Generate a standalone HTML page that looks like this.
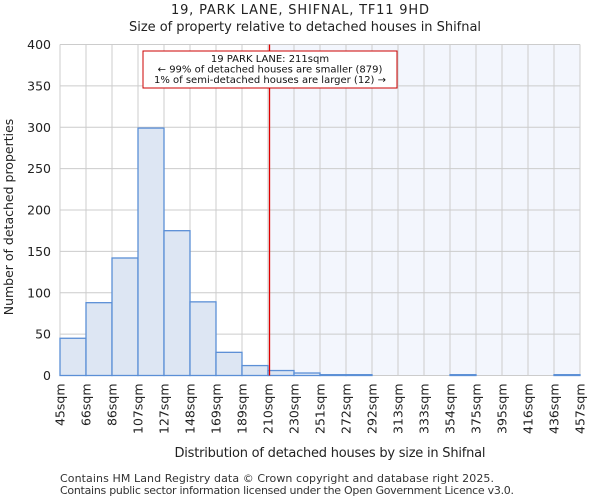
<!DOCTYPE html>
<html><head><meta charset="utf-8"><style>
body{margin:0;background:#fff;font-family:"DejaVu Sans","Liberation Sans",sans-serif;}
</style></head><body>
<svg width="600" height="500" xmlns="http://www.w3.org/2000/svg" font-family="DejaVu Sans, Liberation Sans, sans-serif">
<text x="300" y="14" text-anchor="middle" font-size="13" fill="#222" textLength="258">19, PARK LANE, SHIFNAL, TF11 9HD</text>
<text x="305" y="31" text-anchor="middle" font-size="13" fill="#222" textLength="352">Size of property relative to detached houses in Shifnal</text>
<g id="plot"></g>
<text x="330" y="457" text-anchor="middle" font-size="13" fill="#222" textLength="311">Distribution of detached houses by size in Shifnal</text>
<text transform="translate(13,217) rotate(-90)" text-anchor="middle" font-size="12.5" fill="#222">Number of detached properties</text>
<text x="60" y="482" font-size="11" fill="#333" textLength="434">Contains HM Land Registry data © Crown copyright and database right 2025.</text>
<text x="60" y="494" font-size="11" fill="#333" textLength="454">Contains public sector information licensed under the Open Government Licence v3.0.</text>
</svg>
<script>
const categories=["45sqm","66sqm","86sqm","107sqm","127sqm","148sqm","169sqm","189sqm","210sqm","230sqm","251sqm","272sqm","292sqm","313sqm","333sqm","354sqm","375sqm","395sqm","416sqm","436sqm","457sqm"];
const counts=[45,88,142,299,175,89,28,12,6,3,1,1,0,0,0,1,0,0,0,1];
const yTicks=[0,50,100,150,200,250,300,350,400];
const markerValue=211;
const annotationLines=["19 PARK LANE: 211sqm","← 99% of detached houses are smaller (879)","1% of semi-detached houses are larger (12) →"];
const NS="http://www.w3.org/2000/svg";
const L=60,R=580,T=44.5,B=375.5;
const n=counts.length,bw=(R-L)/n;
const xB=i=>L+i*bw;
const y=v=>B-(v/400)*(B-T);
const lo=45,step=(457-45)/20;
const xV=v=>L+(v-lo)/step*bw;
const g=document.getElementById('plot');
function mk(t,a){const e=document.createElementNS(NS,t);for(const k in a)e.setAttribute(k,a[k]);g.appendChild(e);return e;}
const mx=xV(markerValue);
let e=mk('rect',{x:mx,y:T,width:R-mx,height:B-T,fill:'#f3f6fd'});


yTicks.forEach(t=>{
 let l=mk('line',{x1:L,x2:R,y1:y(t),y2:y(t),stroke:'#ccc','stroke-width':1});
 
 
 let tx=mk('text',{x:L-9,y:y(t)+4.5,'text-anchor':'end','font-size':12.5,fill:'#222'});
 tx.textContent=t;
 
 
});
categories.forEach((c,i)=>{
 let l=mk('line',{x1:xB(i),x2:xB(i),y1:T,y2:B,stroke:'#ccc','stroke-width':1});
 
 
 let tx=mk('text',{transform:`translate(${xB(i)+4.5},${B+8}) rotate(-90)`,'text-anchor':'end','font-size':12.5,fill:'#222'});
 tx.textContent=c;
 
 
});
counts.forEach((v,i)=>{
 let r=mk('rect',{x:xB(i),y:y(v),width:bw,height:B-y(v),fill:i*step+lo<markerValue?'#dde6f3':'#e6edf8',stroke:'#5b8fd6','stroke-width':1.3});
 
 
});
let rl=mk('line',{x1:mx,x2:mx,y1:T,y2:B,stroke:'#d00','stroke-width':1.3});


let box=mk('rect',{x:143,y:51,width:254,height:37,fill:'#fff',stroke:'#c00','stroke-width':1});


annotationLines.forEach((s,i)=>{
 let tx=mk('text',{x:270,y:62+i*10.5,'text-anchor':'middle','font-size':10,fill:'#111'});
 tx.textContent=s;
 
 
});
</script>
</body></html>
